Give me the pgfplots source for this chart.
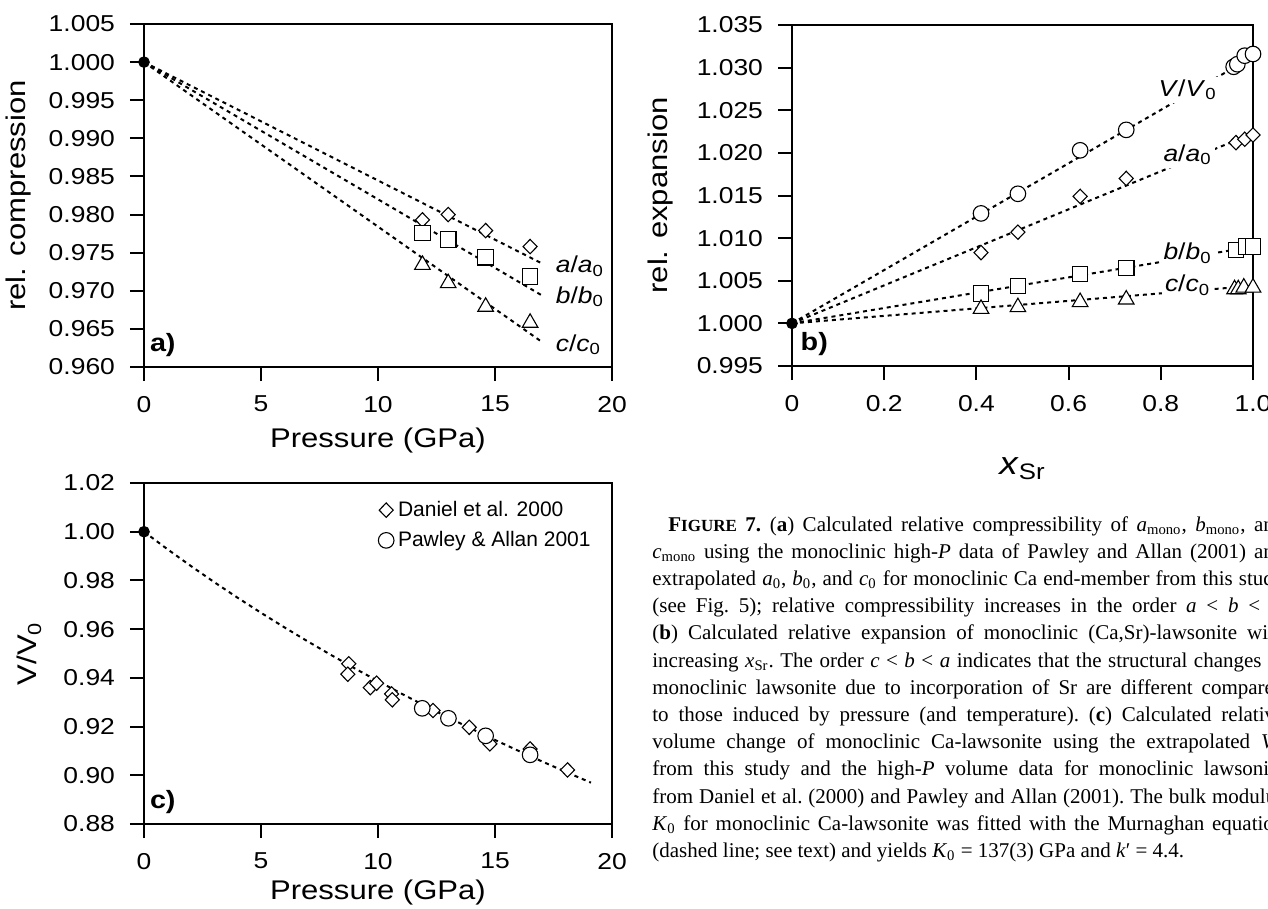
\documentclass[border=0pt]{standalone}
\usepackage{fontspec}
\setmainfont{Liberation Serif}
\setsansfont{Liberation Sans}
\newfontfamily\arial{Liberation Sans}[FakeStretch=1.15]
\newfontfamily\arialn{Liberation Sans}
\usepackage{pgfplots}
\pgfplotsset{compat=1.18}

\pgfplotsset{
  panel/.style={
    scale only axis,
    anchor=south west,
    tick align=outside,
    xtick pos=bottom, ytick pos=left,
    major tick length=7pt,
    axis line style={line width=1pt},
    every tick/.append style={black, line width=1pt},
    ticklabel style={font=\arial\fontsize{11.5}{13}\selectfont},
    xticklabel style={yshift=-4pt},
    yticklabel style={xshift=-4pt},
    label style={font=\arial\fontsize{13.5}{15}\selectfont},
    /pgf/number format/assume math mode=true,
    clip=false,
  },
  fitline/.style={black, line width=1pt, dash pattern=on 2pt off 2pt, no markers, forget plot},
  dmark/.style={only marks, mark=diamond*, mark size=3.6pt, mark options={xscale=1.3, fill=white, draw=black, line width=0.55pt}},
  smark/.style={only marks, mark=square*, mark size=3.9pt, mark options={fill=white, draw=black, line width=0.55pt}},
  tmark/.style={only marks, mark=triangle*, mark size=4.5pt, mark options={fill=white, draw=black, line width=0.55pt}},
  cmark/.style={only marks, mark=*, mark size=3.9pt, mark options={fill=white, draw=black, line width=0.55pt}},
  dot/.style={only marks, mark=*, mark size=2.7pt, black, forget plot},
}

\begin{document}
\begin{tikzpicture}
\path[use as bounding box] (0,0) rectangle (634pt,-454.5pt);

% ---------------- panel a ----------------
\begin{axis}[panel,
  at={(72pt,-183.5pt)}, width=234pt, height=171.5pt,
  xmin=0, xmax=20, ymin=0.96, ymax=1.005,
  xtick={0,5,10,15,20}, xticklabels={0,5,10,15,20},
  ytick={0.960,0.965,0.970,0.975,0.980,0.985,0.990,0.995,1.000,1.005},
  yticklabels={0.960,0.965,0.970,0.975,0.980,0.985,0.990,0.995,1.000,1.005},
  xlabel={Pressure (GPa)}, ylabel={rel. compression},
  xlabel style={at={(axis description cs:0.5,-0.215)}, anchor=center},
  ylabel style={at={(axis description cs:-0.268,0.5)}, anchor=center},
]
\addplot[fitline] coordinates {(0,1) (17,0.9736)};
\addplot[fitline] coordinates {(0,1) (17,0.9694)};
\addplot[fitline] coordinates {(0,1) (17,0.9633)};
\addplot[dmark] coordinates {(11.9,0.9793) (13.0,0.9800) (14.6,0.9779) (16.5,0.9758)};
\addplot[smark] coordinates {(11.9,0.9776) (13.0,0.9767) (14.6,0.9744) (16.5,0.9719)};
\addplot[tmark] coordinates {(11.9,0.9734) (13.0,0.9710) (14.6,0.9679) (16.5,0.9658)};
\addplot[dot] coordinates {(0,1)};
\tikzset{alab/.style={anchor=west, font=\arial\fontsize{11.5}{13}\selectfont}}
\node[alab] at (axis cs:17.3,0.9732) {\textit{a}/\textit{a}\textsubscript{0}};
\node[alab] at (axis cs:17.3,0.9692) {\textit{b}/\textit{b}\textsubscript{0}};
\node[alab] at (axis cs:17.3,0.9629) {\textit{c}/\textit{c}\textsubscript{0}};
\node[anchor=south west, inner sep=0pt, font=\arial\bfseries\fontsize{12.5}{14}\selectfont] at (rel axis cs:0.012,0.03) {a)};
\end{axis}

% ---------------- panel b ----------------
\begin{axis}[panel,
  at={(396pt,-183pt)}, width=230.5pt, height=170.5pt,
  xmin=0, xmax=1, ymin=0.995, ymax=1.035,
  xtick={0,0.2,0.4,0.6,0.8,1.0}, xticklabels={0,0.2,0.4,0.6,0.8,1.0},
  ytick={0.995,1.000,1.005,1.010,1.015,1.020,1.025,1.030,1.035},
  yticklabels={0.995,1.000,1.005,1.010,1.015,1.020,1.025,1.030,1.035},
  xlabel={\fontsize{16}{18}\selectfont\textit{x}\textsubscript{Sr}}, ylabel={rel. expansion},
  xlabel style={at={(axis description cs:0.5,-0.3)}, anchor=center},
  ylabel style={at={(axis description cs:-0.285,0.5)}, anchor=center},
]
\addplot[fitline] coordinates {(0,1) (1,1.0313)};
\addplot[fitline] coordinates {(0,1) (1,1.0223)};
\addplot[fitline] coordinates {(0,1) (1,1.0090)};
\addplot[fitline] coordinates {(0,1) (1,1.0044)};
\addplot[cmark] coordinates {(0.41,1.0129) (0.49,1.0152) (0.625,1.0203) (0.725,1.0227) (0.958,1.0301) (0.966,1.0304) (0.982,1.0314) (1.0,1.0316)};
\addplot[dmark] coordinates {(0.41,1.0083) (0.49,1.0107) (0.625,1.0149) (0.725,1.0170) (0.963,1.0212) (0.982,1.0216) (1.0,1.0221)};
\addplot[smark] coordinates {(0.41,1.0035) (0.49,1.0044) (0.625,1.0058) (0.725,1.0065) (0.963,1.0086) (0.985,1.0090) (1.0,1.0090)};
\addplot[tmark] coordinates {(0.41,1.0017) (0.49,1.0019) (0.625,1.0025) (0.725,1.0028) (0.96,1.0040) (0.968,1.0040) (0.98,1.0042) (1.0,1.0042)};
\addplot[dot] coordinates {(0,1)};
\tikzset{blab/.style={fill=white, inner sep=1.5pt, font=\arial\fontsize{11.5}{13}\selectfont}}
\node[blab] at (axis cs:0.858,1.0274) {\textit{V}/\textit{V}\textsubscript{0}};
\node[blab] at (axis cs:0.858,1.0198) {\textit{a}/\textit{a}\textsubscript{0}};
\node[blab] at (axis cs:0.858,1.0082) {\textit{b}/\textit{b}\textsubscript{0}};
\node[blab] at (axis cs:0.858,1.0045) {\textit{c}/\textit{c}\textsubscript{0}};
\node[anchor=south west, inner sep=0pt, font=\arial\bfseries\fontsize{12.5}{14}\selectfont] at (rel axis cs:0.018,0.03) {b)};
\end{axis}

% ---------------- panel c ----------------
\begin{axis}[panel,
  at={(72pt,-412pt)}, width=234pt, height=170.5pt,
  xmin=0, xmax=20, ymin=0.88, ymax=1.02,
  xtick={0,5,10,15,20}, xticklabels={0,5,10,15,20},
  ytick={0.88,0.90,0.92,0.94,0.96,0.98,1.00,1.02},
  yticklabels={0.88,0.90,0.92,0.94,0.96,0.98,1.00,1.02},
  xlabel={Pressure (GPa)}, ylabel={V/V\textsubscript{0}},
  xlabel style={at={(axis description cs:0.5,-0.2)}, anchor=center},
  ylabel style={at={(axis description cs:-0.245,0.5)}, anchor=center},
  legend style={at={(axis description cs:0.5,0.96)}, anchor=north west, draw=none, fill=none,
    font=\arialn\fontsize{10.5}{12}\selectfont, row sep=2pt, inner sep=0pt},
  legend cell align=left,
]
\addplot[fitline] coordinates {(0,1.0) (1,0.99284) (2,0.98595) (3,0.97931) (4,0.97291) (5,0.96672)
  (6,0.96074) (7,0.95496) (8,0.94936) (9,0.94393) (10,0.93866) (11,0.93355) (12,0.92859)
  (13,0.92377) (14,0.91907) (15,0.91451) (16,0.91006) (17,0.90573) (18,0.90151) (19,0.89739) (19.1,0.89698)};
\addplot[dmark] coordinates {(8.75,0.9458) (8.71,0.9415) (9.67,0.9360) (9.94,0.9378) (10.58,0.9334) (10.61,0.9310) (12.35,0.9266) (13.9,0.9197) (14.78,0.9129) (16.5,0.9108) (18.1,0.9022)};
\addlegendentry{Daniel et al. 2000}
\addplot[cmark] coordinates {(11.89,0.9275) (13.01,0.9234) (14.6,0.9162) (16.5,0.9084)};
\addlegendentry{Pawley \& Allan 2001}
\addplot[dot] coordinates {(0,1)};
\node[anchor=south west, inner sep=0pt, font=\arial\bfseries\fontsize{12.5}{14}\selectfont] at (rel axis cs:0.012,0.03) {c)};
\end{axis}

% ---------------- caption ----------------
\node[anchor=north west, inner sep=0pt, text width=316pt, align=justify,
  font=\fontsize{10.5}{13.6}\selectfont\frenchspacing] at (326pt,-258pt) {%
\hspace*{8pt}\textbf{F{\fontsize{8.5}{10}\selectfont IGURE} 7.} (\textbf{a}) Calculated relative compressibility of \textit{a}\textsubscript{mono}, \textit{b}\textsubscript{mono}, and\linebreak
\textit{c}\textsubscript{mono} using the monoclinic high-\textit{P} data of Pawley and Allan (2001) and\linebreak
extrapolated \textit{a}\textsubscript{0}, \textit{b}\textsubscript{0}, and \textit{c}\textsubscript{0} for monoclinic Ca end-member from this study\linebreak
(see Fig.~5); relative compressibility increases in the order \textit{a} < \textit{b} < \textit{c}.\linebreak
(\textbf{b}) Calculated relative expansion of monoclinic (Ca,Sr)-lawsonite with\linebreak
increasing \textit{x}\textsubscript{Sr}. The order \textit{c} < \textit{b} < \textit{a} indicates that the structural changes in\linebreak
monoclinic lawsonite due to incorporation of Sr are different compared\linebreak
to those induced by pressure (and temperature). (\textbf{c}) Calculated relative\linebreak
volume change of monoclinic Ca-lawsonite using the extrapolated \textit{V}\textsubscript{0}\linebreak
from this study and the high-\textit{P} volume data for monoclinic lawsonite\linebreak
from Daniel et al. (2000) and Pawley and Allan (2001). The bulk modulus\linebreak
\textit{K}\textsubscript{0} for monoclinic Ca-lawsonite was fitted with the Murnaghan equation\linebreak
(dashed line; see text) and yields \textit{K}\textsubscript{0} = 137(3) GPa and \textit{k}′ = 4.4.};
\end{tikzpicture}
\end{document}
